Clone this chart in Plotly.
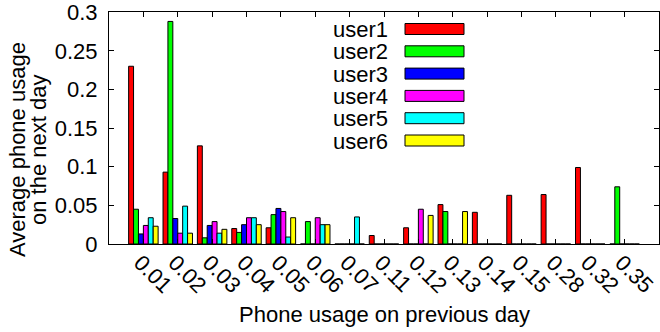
import plotly.graph_objects as go

# Phone usage on previous day (bins) and per-user average usage on the next day
categories = ["0.01", "0.02", "0.03", "0.04", "0.05", "0.06", "0.07", "0.11",
              "0.12", "0.13", "0.14", "0.15", "0.28", "0.32", "0.35"]
user1 = [0.230, 0.093, 0.127, 0.020, 0.021, 0, 0, 0.011, 0.021, 0.051, 0.041, 0.063, 0.064, 0.099, 0]
user2 = [0.045, 0.288, 0.008, 0.015, 0.038, 0.029, 0, 0, 0, 0.042, 0, 0, 0, 0, 0.074]
user3 = [0.013, 0.033, 0.024, 0.025, 0.046, 0, 0, 0, 0, 0, 0, 0, 0, 0, 0]
user4 = [0.024, 0.014, 0.029, 0.034, 0.042, 0.034, 0, 0, 0.045, 0, 0, 0, 0, 0, 0]
user5 = [0.034, 0.049, 0.014, 0.034, 0.009, 0.025, 0.035, 0, 0, 0, 0, 0, 0, 0, 0]
user6 = [0.023, 0.014, 0.019, 0.025, 0.034, 0.025, 0, 0, 0.037, 0.042, 0, 0, 0, 0, 0]

series_names = ["user1", "user2", "user3", "user4", "user5", "user6"]
series_values = [user1, user2, user3, user4, user5, user6]
series_colors = ["#ff0000", "#00ff00", "#0000ff", "#ff00ff", "#00ffff", "#ffff00"]

y_tick_values = [0, 0.05, 0.1, 0.15, 0.2, 0.25, 0.3]
y_tick_labels = ["0", "0.05", "0.1", "0.15", "0.2", "0.25", "0.3"]

FONT = "Liberation Sans, Arial, Helvetica, sans-serif"
W_PX, H_PX = 660, 332
L, R, T, B = 109, 1, 12, 88
PW, PH = W_PX - L - R, H_PX - T - B


def px_x(px):
    return (px - L) / PW


def px_y(py):
    return (H_PX - B - py) / PH


fig = go.Figure()
for name, vals, col in zip(series_names, series_values, series_colors):
    fig.add_trace(go.Bar(
        x=categories, y=vals, name=name,
        marker=dict(color=col, line=dict(color="black", width=1)),
        showlegend=False,
    ))

annotations = []
shapes = []

# key: label on the left, colour swatch on the right
row0, row_step = 29.0, 22.3
for i, (name, col) in enumerate(zip(series_names, series_colors)):
    cy = row0 + i * row_step
    annotations.append(dict(
        xref="paper", yref="paper", x=px_x(390), y=px_y(cy),
        xanchor="right", yanchor="middle", text=name, showarrow=False,
        height=20, font=dict(family=FONT, size=22, color="black"),
    ))
    shapes.append(dict(
        type="rect", xref="paper", yref="paper",
        x0=px_x(405), x1=px_x(464), y0=px_y(cy - 5.5), y1=px_y(cy + 5.5),
        fillcolor=col, line=dict(color="black", width=1),
    ))

# two-line y-axis title
for text, xc in [("Average phone usage", 17), ("on the next day", 38)]:
    annotations.append(dict(
        xref="paper", yref="paper", x=px_x(xc), y=px_y(150),
        xanchor="center", yanchor="middle", text=text, textangle=-90,
        showarrow=False, font=dict(family=FONT, size=22, color="black"),
    ))

# x-axis title
annotations.append(dict(
    xref="paper", yref="paper", x=px_x(384.5), y=px_y(314),
    xanchor="center", yanchor="middle", text="Phone usage on previous day",
    showarrow=False, font=dict(family=FONT, size=22, color="black"),
))

fig.update_layout(
    width=W_PX, height=H_PX,
    margin=dict(l=L, r=R, t=T, b=B, pad=0),
    paper_bgcolor="white", plot_bgcolor="white",
    barmode="group", bargap=1 / 7, bargroupgap=0,
    font=dict(family=FONT, size=22, color="black"),
    annotations=annotations, shapes=shapes,
    showlegend=False,
)
fig.update_xaxes(
    type="category", range=[-1, 15], tickangle=45,
    showline=True, linecolor="black", linewidth=1, mirror="ticks",
    ticks="inside", ticklen=5, tickcolor="black", showgrid=False,
    tickfont=dict(family=FONT, size=22, color="black"),
    ticklabelstandoff=-4, ticklabelshift=-3,
)
fig.update_yaxes(
    range=[0, 0.3002], tickmode="array", tickvals=y_tick_values, ticktext=y_tick_labels,
    showline=True, linecolor="black", linewidth=1, mirror="ticks",
    ticks="inside", ticklen=5, tickcolor="black", showgrid=False, zeroline=False,
    tickfont=dict(family=FONT, size=22, color="black"), ticklabelstandoff=6,
    ticklabeloverflow="allow",
)

fig.write_html("out.html")
